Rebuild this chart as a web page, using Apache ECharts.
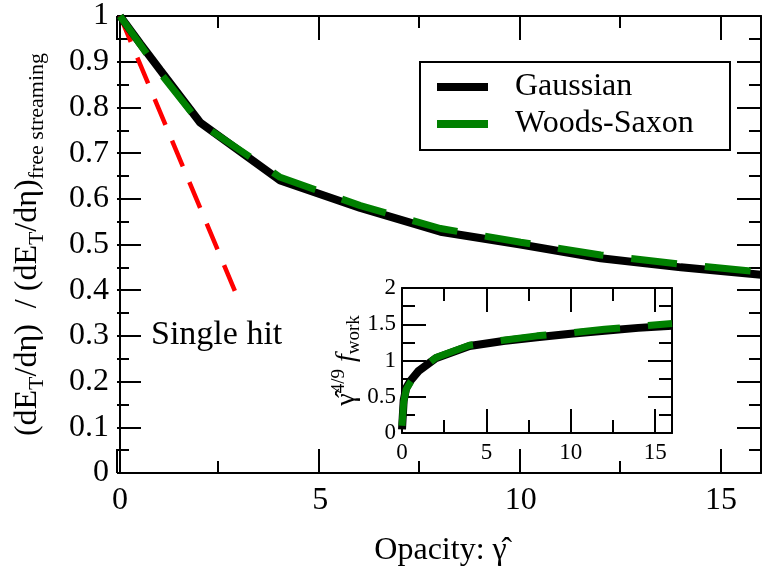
<!DOCTYPE html>
<html>
<head>
<meta charset="utf-8">
<script src="https://cdn.jsdelivr.net/npm/echarts@6/dist/echarts.min.js"></script>
<style>
  html, body { margin: 0; padding: 0; background: #fff; }
  #main { width: 769px; height: 573px; }
</style>
</head>
<body>
<div id="main"></div>
<script>
// main panel: energy ratio vs opacity
const opacity = [0, 0.5, 1, 2, 4, 6, 8, 10, 12, 14, 16];
const gaussian = [1, 0.94, 0.882, 0.767, 0.64, 0.58, 0.528, 0.5, 0.47, 0.45, 0.434];
const woodsSaxon = [1, 0.938, 0.876, 0.765, 0.647, 0.585, 0.535, 0.505, 0.477, 0.457, 0.44];
const singleHitX = [0, 2.93];
const singleHitY = [1, 0.385];

// inset: gamma^(4/9) f_work
const insetX = [0, 0.1, 0.25, 0.5, 1, 2, 4, 6, 8, 10, 12, 14, 16];
const insetGauss = [0.05, 0.45, 0.62, 0.72, 0.86, 1.03, 1.2, 1.27, 1.32, 1.37, 1.41, 1.45, 1.48];
const insetWoods = [0.1, 0.43, 0.6, 0.7, 0.85, 1.04, 1.21, 1.28, 1.34, 1.38, 1.43, 1.47, 1.51];

const legendNames = ['Gaussian', 'Woods-Saxon'];
const legendColors = ['#000', '#008000'];

const FONT = 'Liberation Serif';
const zip = (xs, ys) => xs.map((x, i) => [x, ys[i]]);

const chart = echarts.init(document.getElementById('main'));

function frameAxis(extra) {
  return Object.assign({
    type: 'value',
    axisLine: { show: true, onZero: false, lineStyle: { color: '#000', width: 2 } },
    axisTick: { show: false },
    minorTick: { show: false },
    splitLine: { show: false },
    axisLabel: { show: false }
  }, extra);
}
function hiddenAxis(extra) {
  return Object.assign({
    type: 'value', min: 0, max: 1,
    axisLine: { show: false }, axisTick: { show: false },
    axisLabel: { show: false }, splitLine: { show: false }
  }, extra);
}

const mainBox = { l: 117, t: 16, w: 644, h: 457 };
const insetBox = { l: 402, t: 288, w: 270, h: 145 };

const grids = [
  { left: mainBox.l, top: mainBox.t, width: mainBox.w, height: mainBox.h },
  { left: insetBox.l, top: insetBox.t, width: insetBox.w, height: insetBox.h }
];
const xAxes = [];
const yAxes = [];

// tick marks: thin grid strips along each frame edge, whose split lines are the ticks
function addStrip(rect, dir, min, max, step) {
  const gi = grids.length;
  grids.push(rect);
  const marks = { type: 'value', gridIndex: gi, min: min, max: max, interval: step,
    axisLine: { show: false }, axisTick: { show: false }, axisLabel: { show: false },
    splitLine: { show: true, lineStyle: { color: '#000', width: 2 } } };
  if (dir === 'x') {
    xAxes.push(marks);
    yAxes.push(hiddenAxis({ gridIndex: gi }));
  } else {
    yAxes.push(marks);
    xAxes.push(hiddenAxis({ gridIndex: gi }));
  }
}
function addTicks(b, xMax, xMajor, xMinor, yMax, yMajor, yMinor, major, minor) {
  [[major, xMajor, yMajor], [minor, xMinor, yMinor]].forEach(([len, xs, ys]) => {
    addStrip({ left: b.l, top: b.t + b.h - len, width: b.w, height: len }, 'x', 0, xMax, xs);
    addStrip({ left: b.l, top: b.t, width: b.w, height: len }, 'x', 0, xMax, xs);
    addStrip({ left: b.l, top: b.t, width: len, height: b.h }, 'y', 0, yMax, ys);
    addStrip({ left: b.l + b.w - len, top: b.t, width: len, height: b.h }, 'y', 0, yMax, ys);
  });
}

xAxes.push(
  frameAxis({
    gridIndex: 0, min: 0, max: 16, interval: 5,
    axisLabel: { show: true, fontFamily: FONT, fontSize: 32, color: '#000', margin: 12,
      showMaxLabel: false },
    name: 'Opacity: γ̂', nameLocation: 'middle', nameGap: 62,
    nameTextStyle: { fontFamily: FONT, fontSize: 32, color: '#000' }
  }),
  frameAxis({ gridIndex: 0, min: 0, max: 16, interval: 5, position: 'top' }),
  frameAxis({
    gridIndex: 1, min: 0, max: 16, interval: 5,
    axisLabel: { show: true, fontFamily: FONT, fontSize: 23, color: '#000', margin: 8,
      showMaxLabel: false }
  }),
  frameAxis({ gridIndex: 1, min: 0, max: 16, interval: 5, position: 'top' })
);
yAxes.push(
  frameAxis({
    gridIndex: 0, min: 0, max: 1, interval: 0.1,
    axisLabel: { show: true, fontFamily: FONT, fontSize: 32, color: '#000', margin: 11 },
    name: '(dE{sub|T}/dη)  / (dE{sub|T}/dη){sub|free streaming}',
    nameLocation: 'middle', nameRotate: 90, nameGap: 72,
    nameTextStyle: {
      fontFamily: FONT, fontSize: 32, color: '#000', lineHeight: 40,
      rich: {
        sub: { fontFamily: FONT, fontSize: 22, color: '#000', lineHeight: 22, padding: [18, 0, 0, 0] }
      }
    }
  }),
  frameAxis({ gridIndex: 0, min: 0, max: 1, interval: 0.1, position: 'right' }),
  frameAxis({
    gridIndex: 1, min: 0, max: 2, interval: 0.5,
    axisLabel: { show: true, fontFamily: FONT, fontSize: 23, color: '#000', margin: 6 },
    name: 'γ̂{sup|4/9} {it|f}{sub|work}',
    nameLocation: 'middle', nameRotate: 90, nameGap: 26,
    nameTextStyle: {
      fontFamily: FONT, fontSize: 28, color: '#000', lineHeight: 34,
      rich: {
        sup: { fontFamily: FONT, fontSize: 19, color: '#000', lineHeight: 19, padding: [0, 0, 15, 0] },
        it: { fontFamily: FONT, fontSize: 28, fontStyle: 'italic', color: '#000' },
        sub: { fontFamily: FONT, fontSize: 19, color: '#000', lineHeight: 19, padding: [15, 0, 0, 0] }
      }
    }
  }),
  frameAxis({ gridIndex: 1, min: 0, max: 2, interval: 0.5, position: 'right' })
);

addTicks(mainBox, 16, 5, 2.5, 1, 0.1, 0.05, 24, 12);
addTicks(insetBox, 16, 5, 2.5, 2, 0.5, 0.25, 24, 13);

// legend box drawn by hand
const legendGraphics = [
  { type: 'rect', left: 419, top: 61, z: 10,
    shape: { width: 310, height: 88 }, style: { fill: '#fff', stroke: '#000', lineWidth: 2 } }
];
legendNames.forEach((nm, i) => {
  legendGraphics.push({ type: 'rect', left: 437, top: 83 + i * 37, z: 11,
    shape: { width: 51, height: 8 }, style: { fill: legendColors[i] } });
  legendGraphics.push({ type: 'text', left: 515, top: 71 + i * 37, z: 11,
    style: { text: nm, fontFamily: FONT, fontSize: 32, fill: '#000' } });
});

const option = {
  animation: false,
  backgroundColor: '#fff',
  grid: grids,
  xAxis: xAxes,
  yAxis: yAxes,
  graphic: legendGraphics.concat([
    { type: 'text', left: 151, top: 318,
      style: { text: 'Single hit', fontFamily: FONT, fontSize: 34, fill: '#000' } }
  ]),
  series: [
    { type: 'line', xAxisIndex: 0, yAxisIndex: 0, symbol: 'none',
      data: zip(singleHitX, singleHitY), z: 2,
      lineStyle: { color: '#ff0000', width: 4.5, type: [28, 17], cap: 'butt' } },
    { type: 'line', xAxisIndex: 0, yAxisIndex: 0, symbol: 'none',
      data: zip(opacity, gaussian), z: 3,
      lineStyle: { color: '#000', width: 8 } },
    { type: 'line', xAxisIndex: 0, yAxisIndex: 0, symbol: 'none',
      data: zip(opacity, woodsSaxon), z: 4,
      lineStyle: { color: '#008000', width: 7, type: [46, 28], cap: 'butt' } },
    { type: 'line', xAxisIndex: 2, yAxisIndex: 2, symbol: 'none',
      data: zip(insetX, insetGauss), z: 3,
      lineStyle: { color: '#000', width: 8 } },
    { type: 'line', xAxisIndex: 2, yAxisIndex: 2, symbol: 'none',
      data: zip(insetX, insetWoods), z: 4,
      lineStyle: { color: '#008000', width: 7, type: [46, 28], cap: 'butt' } }
  ]
};

chart.setOption(option);
</script>
</body>
</html>
